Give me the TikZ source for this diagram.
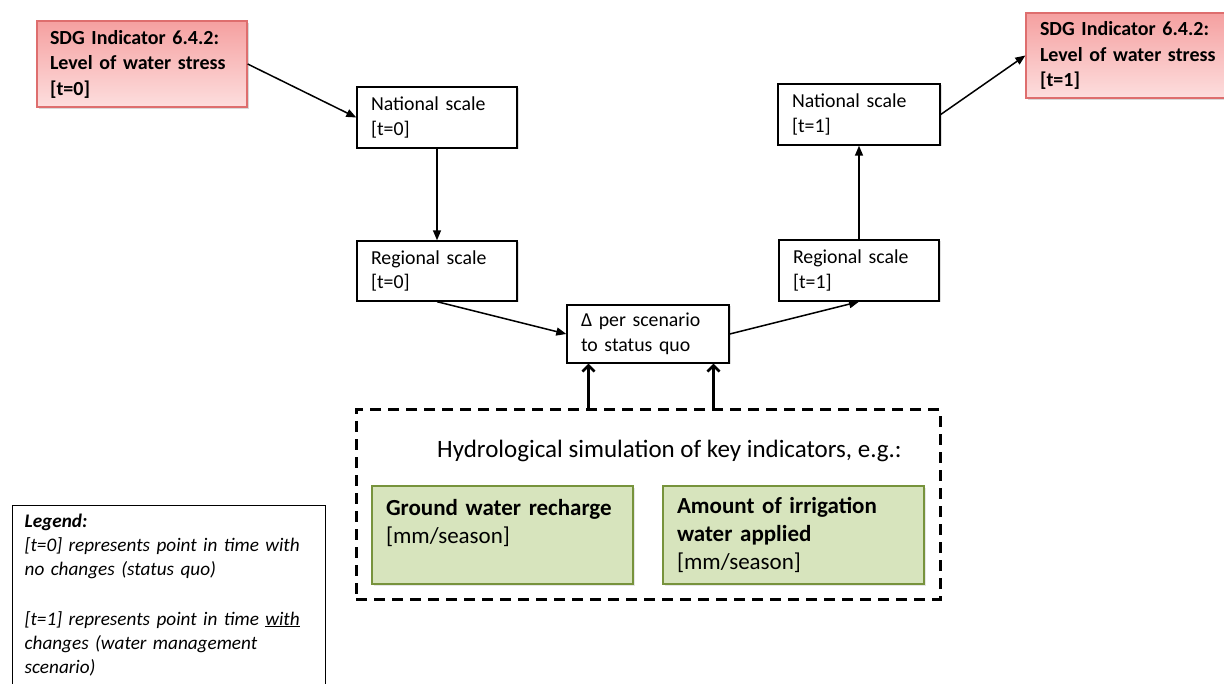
\documentclass[tikz,border=0pt]{standalone}
\usepackage{fontspec}
\setmainfont{Carlito}
\usetikzlibrary{arrows.meta,shadows,calc}
\definecolor{pinkline}{RGB}{222,110,110}
\definecolor{pinktop}{RGB}{245,160,160}
\definecolor{pinkbot}{RGB}{253,222,222}
\definecolor{greenfill}{RGB}{215,228,189}
\definecolor{greenline}{RGB}{119,147,60}
\tikzset{
  plainbox/.style={draw=black, line width=1.4pt, fill=white, align=left,
    inner xsep=14pt, inner ysep=0pt,
    font=\fontsize{19.8}{24.5}\selectfont,
    drop shadow={shadow xshift=1.5pt, shadow yshift=-1.5pt, opacity=0.25}},
  sdgbox/.style={draw=pinkline, line width=1.3pt, top color=pinktop, bottom color=pinkbot,
    align=left, inner xsep=13pt, inner ysep=0pt,
    font=\fontsize{20}{25.5}\selectfont\bfseries,
    drop shadow={shadow xshift=2pt, shadow yshift=-2pt, opacity=0.3}},
  greenbox/.style={draw=greenline, line width=2.6pt, fill=greenfill, align=left,
    inner xsep=14pt, inner ysep=0pt,
    drop shadow={shadow xshift=1.5pt, shadow yshift=-1.5pt, opacity=0.2}},
  dashbox/.style={draw=black, line width=3pt, dash pattern=on 11pt off 7pt},
  arr/.style={line width=1.5pt, -{Triangle[length=10pt,width=8pt]}},
  thickarr/.style={line width=3.2pt, -{Straight Barb[length=6pt,width=12pt,line width=2.6pt]}},
}
\begin{document}
\begin{tikzpicture}[x=1pt,y=-1pt]
\useasboundingbox (0,0) rectangle (1224,684);
\clip (0,0) rectangle (1224,684);

\node[sdgbox, text width=184pt, minimum height=86pt] (sdg0) at (142,64)
  {SDG Indicator 6.4.2:\\Level of water stress\\{}[t=0]};
\node[sdgbox, text width=194pt, minimum height=85pt, inner xsep=14pt] (sdg1) at (1137,55.5)
  {SDG Indicator 6.4.2:\\Level of water stress\\{}[t=1]};

\node[plainbox, text width=132pt, minimum height=61pt] (nat0) at (437,117.5)
  {National scale\\{}[t=0]};
\node[plainbox, text width=132pt, minimum height=60pt] (reg0) at (437,271)
  {Regional scale\\{}[t=0]};
\node[plainbox, text width=134pt, minimum height=58pt] (delta) at (648,334)
  {Δ per scenario\\to status quo};
\node[plainbox, text width=132pt, minimum height=61pt] (reg1) at (859,270.5)
  {Regional scale\\{}[t=1]};
\node[plainbox, text width=134pt, minimum height=61pt] (nat1) at (859,114.5)
  {National scale\\{}[t=1]};

\node[dashbox, minimum width=584pt, minimum height=189pt, inner sep=0pt] (dash) at (648,504.5) {};
\node[font=\fontsize{25}{29}\selectfont, inner sep=0pt] (hydro) at (669.5,451)
  {Hydrological simulation of key indicators, e.g.:};

\node[greenbox, text width=233pt, minimum height=98pt,
  font=\fontsize{23}{28}\selectfont] (g1) at (502.5,535)
  {\textbf{Ground water recharge}\\{}[mm/season]\\\mbox{}};
\node[greenbox, text width=233pt, minimum height=98pt,
  font=\fontsize{23}{28}\selectfont] (g2) at (793.5,535)
  {\textbf{Amount of irrigation}\\\textbf{water applied}\\{}[mm/season]};

\node[draw=black, line width=1.3pt, anchor=north west, text width=289pt, inner xsep=12pt,
  inner ysep=8pt, minimum height=210pt, align=left, fill=white,
  font=\fontsize{19.2}{24.3}\selectfont\itshape] (legend) at (12,505)
  {\textbf{Legend:}\\{}[t=0] represents point in time with\\no changes (status quo)\\[25pt]{}[t=1] represents point in time \underline{with}\\changes (water management\\scenario)\\\mbox{}\\\mbox{}};

\draw[arr] (sdg0.east) -- (nat0.west);
\draw[arr] (nat0.south) -- (reg0.north);
\draw[arr] (reg0.south) -- (delta.west);
\draw[arr] (delta.east) -- (reg1.south);
\draw[arr] (reg1.north) -- (nat1.south);
\draw[arr] (nat1.east) -- (sdg1.west);

\coordinate (t1) at ($(delta.south west)!0.136!(delta.south east)$);
\coordinate (t2) at ($(delta.south west)!0.901!(delta.south east)$);
\draw[thickarr] (t1 |- dash.north) -- (t1);
\draw[thickarr] (t2 |- dash.north) -- (t2);
\end{tikzpicture}
\end{document}
